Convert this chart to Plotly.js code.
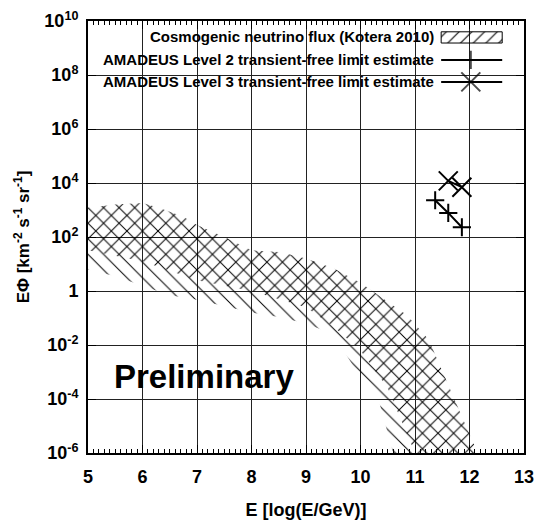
<!DOCTYPE html>
<html><head><meta charset="utf-8">
<script src="https://cdn.plot.ly/plotly-3.0.1.min.js"></script>
<style>html,body{margin:0;padding:0;background:#fff}</style>
</head><body><div id="chart" style="width:537px;height:523px"></div>
<script>
// Cosmogenic neutrino flux band (Kotera 2010) - common upper envelope
const bandUpperX = [5, 5.5, 6, 6.3, 6.75, 7, 7.5, 8, 8.5, 9, 9.5, 10, 10.5, 10.85, 11.25, 11.7, 12.15];
const bandUpperY = [1.2e3, 1.6e3, 1.8e3, 1.2e3, 5.6e2, 2.8e2, 1.0e2, 32, 28, 16, 7, 2, 0.4, 0.13, 1.6e-2, 1.3e-4, 1e-6];
// wide band lower envelope ("\" hatch)
const band1LowerX = [5, 5.5, 6, 6.5, 7, 7.5, 8, 8.5, 9, 9.5, 10, 10.3, 10.6];
const band1LowerY = [6.3, 3.5, 1.6, 0.7, 0.47, 0.28, 0.16, 0.11, 6.3e-2, 2.5e-2, 6.3e-4, 1.6e-4, 1e-6];
// narrow band lower envelope ("/" hatch)
const band2LowerX = [5, 6, 7, 8, 9, 9.5, 10, 10.5, 10.75, 11.0];
const band2LowerY = [32, 12.6, 2.5, 1, 0.25, 5e-2, 6.3e-3, 2.5e-4, 1.6e-5, 1e-6];
// AMADEUS limits
const level2X = [11.37, 11.61, 11.86];
const level2Y = [2.3e3, 7.8e2, 2.3e2];
const level3X = [11.61, 11.86];
const level3Y = [1.2e4, 7.0e3];
// ticks
const xTickVals = [5, 6, 7, 8, 9, 10, 11, 12, 13];
const yTickVals = [1e-6, 1e-4, 1e-2, 1, 1e2, 1e4, 1e6, 1e8, 1e10];
const yTickText = ['10<sup>-6</sup>', '10<sup>-4</sup>', '10<sup>-2</sup>', '1', '10<sup>2</sup>', '10<sup>4</sup>', '10<sup>6</sup>', '10<sup>8</sup>', '10<sup>10</sup>'];
const legendLabels = ['Cosmogenic neutrino flux (Kotera 2010)', 'AMADEUS Level 2 transient-free limit estimate', 'AMADEUS Level 3 transient-free limit estimate'];

function polygon(ux, uy, lx, ly) {
  return {x: ux.concat(lx.slice().reverse()), y: uy.concat(ly.slice().reverse())};
}
const FONT = 'Liberation Sans, Arial, Helvetica, sans-serif';
const p1 = polygon(bandUpperX, bandUpperY, band1LowerX, band1LowerY);
const p2 = polygon(bandUpperX, bandUpperY, band2LowerX, band2LowerY);

const traces = [
  {x: p1.x, y: p1.y, mode: 'lines', fill: 'toself', line: {width: 0, color: 'rgba(0,0,0,0)'},
   fillcolor: 'rgba(0,0,0,0)', fillpattern: {shape: '\\', fgcolor: '#000', bgcolor: 'rgba(0,0,0,0)', size: 11, solidity: 0.09},
   hoverinfo: 'skip'},
  {x: p2.x, y: p2.y, mode: 'lines', fill: 'toself', line: {width: 0, color: 'rgba(0,0,0,0)'},
   fillcolor: 'rgba(0,0,0,0)', fillpattern: {shape: '/', fgcolor: '#000', bgcolor: 'rgba(0,0,0,0)', size: 11, solidity: 0.09},
   hoverinfo: 'skip'},
  {x: level2X, y: level2Y, mode: 'lines+markers', line: {color: '#000', width: 2},
   marker: {symbol: 'cross-thin', size: 13, line: {color: '#000', width: 2}}},
  {x: level3X, y: level3Y, mode: 'lines+markers', line: {color: '#000', width: 2},
   marker: {symbol: 'x-thin', size: 19, line: {color: '#000', width: 2}}},
  // legend samples (overlay axes in plot fractions)
  {x: [0.81, 0.95, 0.95, 0.81, 0.81], y: [0.949, 0.949, 0.975, 0.975, 0.949], xaxis: 'x2', yaxis: 'y2',
   mode: 'lines', fill: 'toself', line: {color: '#000', width: 1}, fillcolor: 'rgba(0,0,0,0)',
   fillpattern: {shape: '/', fgcolor: '#000', bgcolor: 'rgba(0,0,0,0)', size: 9, solidity: 0.12}},
  {x: [0.81, 0.878, 0.95], y: [0.910, 0.910, 0.910], xaxis: 'x2', yaxis: 'y2', mode: 'lines+markers',
   line: {color: '#000', width: 2}, marker: {symbol: 'cross-thin', size: [0, 13, 0], line: {color: '#000', width: 2}}},
  {x: [0.81, 0.878, 0.95], y: [0.859, 0.859, 0.859], xaxis: 'x2', yaxis: 'y2', mode: 'lines+markers',
   line: {color: '#000', width: 2}, marker: {symbol: 'x-thin', size: [0, 19, 0], line: {color: '#000', width: 2}}}
];

const axisCommon = {
  showline: true, linecolor: '#000', linewidth: 2, mirror: 'allticks',
  ticks: 'inside', tickcolor: '#000', tickwidth: 1, ticklen: 8,
  showgrid: true, gridcolor: '#222', gridwidth: 1, zeroline: false,
  tickfont: {family: FONT, size: 18, color: '#000', weight: 'bold'}
};

const layout = {
  width: 537, height: 523,
  margin: {l: 88, r: 13, t: 21, b: 70},
  paper_bgcolor: '#fff', plot_bgcolor: '#fff',
  showlegend: false,
  xaxis: Object.assign({}, axisCommon, {
    range: [5, 13], tickvals: xTickVals, ticklabelstandoff: 6,
    minor: {ticks: 'inside', dtick: 0.1, ticklen: 4, tickcolor: '#000', showgrid: false},
    title: {text: 'E [log(E/GeV)]', font: {family: FONT, size: 18, color: '#000', weight: 'bold'}, standoff: 18}
  }),
  yaxis: Object.assign({}, axisCommon, {
    type: 'log', range: [-6, 10], tickvals: yTickVals, ticktext: yTickText, ticklabelstandoff: 4,
    title: {text: 'EΦ [km<sup>-2</sup> s<sup>-1</sup> sr<sup>-1</sup>]', font: {family: FONT, size: 17, color: '#000', weight: 'bold'}, standoff: 10}
  }),
  xaxis2: {overlaying: 'x', range: [0, 1], visible: false, fixedrange: true},
  yaxis2: {overlaying: 'y', range: [0, 1], visible: false, fixedrange: true},
  shapes: [
    {type: 'rect', xref: 'paper', yref: 'paper', x0: 0.004, x1: 0.996, y0: 0.826, y1: 0.986,
     fillcolor: '#fff', line: {width: 0}, layer: 'between'}
  ],
  annotations: [
    {xref: 'paper', yref: 'paper', x: 0.798, y: 0.963, xanchor: 'right', yanchor: 'middle', showarrow: false,
     text: legendLabels[0], font: {family: FONT, size: 15, color: '#000', weight: 'bold'}},
    {xref: 'paper', yref: 'paper', x: 0.798, y: 0.910, xanchor: 'right', yanchor: 'middle', showarrow: false,
     text: legendLabels[1], font: {family: FONT, size: 15, color: '#000', weight: 'bold'}},
    {xref: 'paper', yref: 'paper', x: 0.798, y: 0.859, xanchor: 'right', yanchor: 'middle', showarrow: false,
     text: legendLabels[2], font: {family: FONT, size: 15, color: '#000', weight: 'bold'}},
    {xref: 'paper', yref: 'paper', x: 0.266, y: 0.178, xanchor: 'center', yanchor: 'middle', showarrow: false,
     text: 'Preliminary', font: {family: FONT, size: 33, color: '#000', weight: 'bold'}}
  ]
};

Plotly.newPlot('chart', traces, layout, {displayModeBar: false, staticPlot: true});
</script>
</body></html>
